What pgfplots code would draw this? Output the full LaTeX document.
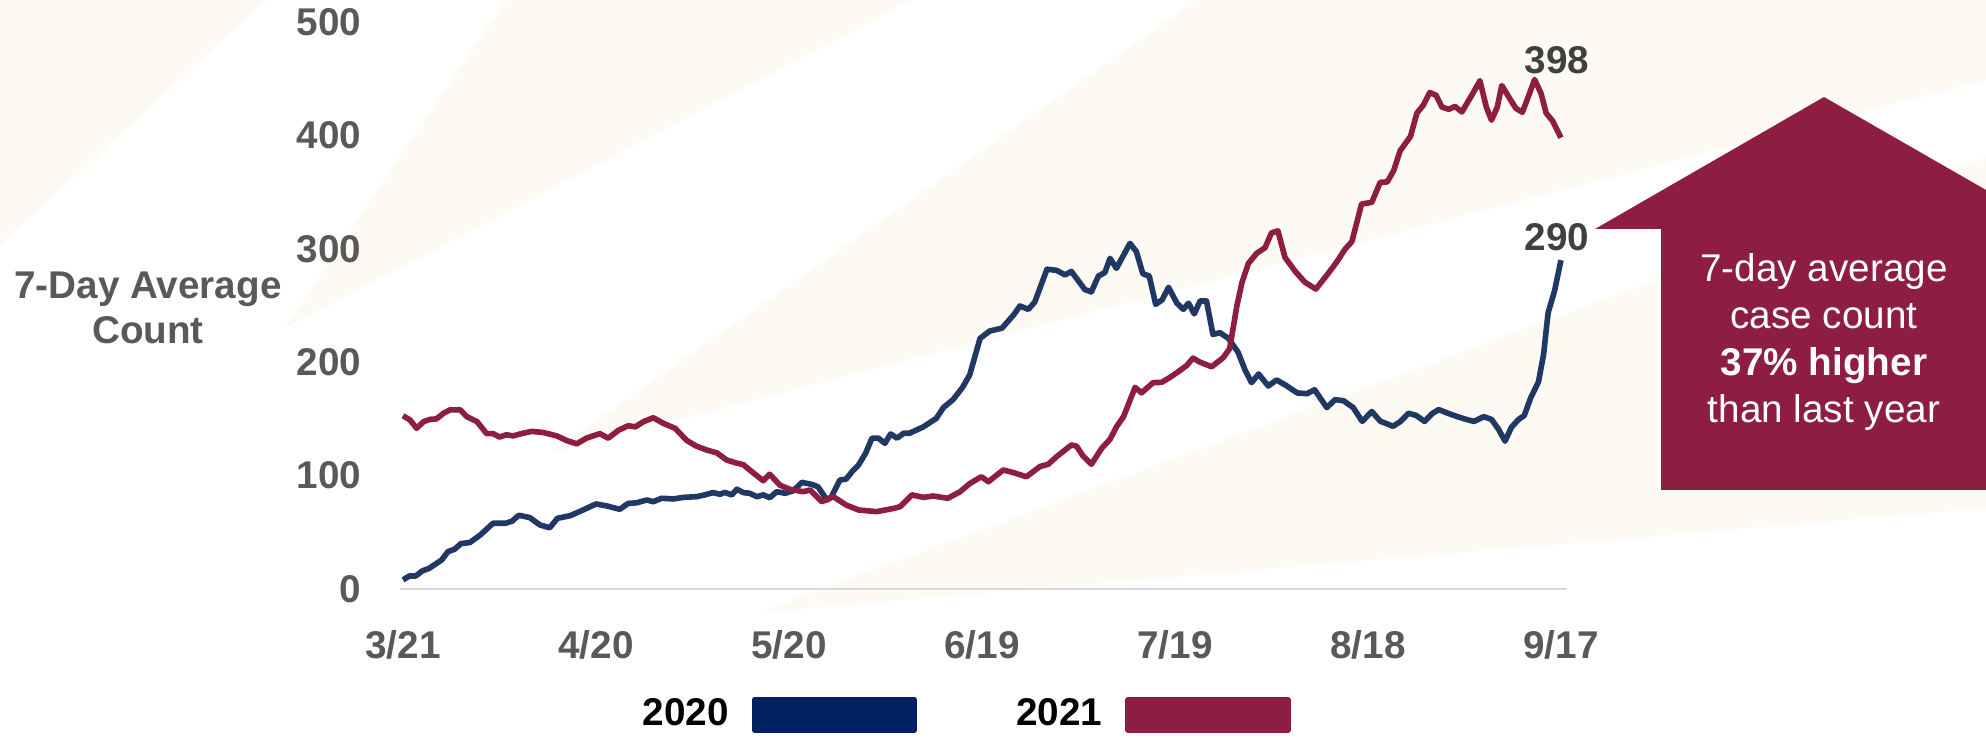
\documentclass[border=0pt]{standalone}
\usepackage{fontspec}
\setmainfont{Liberation Sans}
\usepackage{pgfplots}
\pgfplotsset{compat=1.18}
\definecolor{line20}{RGB}{31,56,100}
\definecolor{leg20}{RGB}{0,32,96}
\definecolor{c21}{RGB}{142,29,66}
\definecolor{tickgray}{RGB}{89,89,89}
\definecolor{lblgray}{RGB}{64,64,64}
\definecolor{beige}{RGB}{253,250,243}
\definecolor{axgray}{RGB}{217,217,217}

\pgfplotstableread{
d v
0 8
1 11.5
2 11.5
3 16
4 18
6 25.6
7 33
8 35
9 40
10.4 41
12 47.6
14 58
16 58
17 60
18 65
19.7 63
21.3 56.4
22.8 54
24 62.3
26 64.7
28 69.7
30 75
31.7 73.2
33.7 70.3
35 75.5
36.3 76
37.9 78.5
38.9 77
40.2 80
42 79.4
43.6 80.8
45.6 81.4
46.9 83
48.2 85
49.3 83.5
50 85.2
51.1 83
51.9 88
52.9 85
53.9 84.4
55 81.4
56 83
57 80.5
58.1 85.8
59.4 84.4
60.7 86.7
62 94
63.5 92.3
64.5 90.2
65.9 78.5
66.6 81.4
67.9 96
68.9 97
69.8 103.5
70.8 109.3
71.9 119.6
72.9 133
73.9 133
74.9 128.5
75.8 136.7
76.8 133
77.8 137.3
78.7 137.3
80.9 143
82.9 150.5
84 160
85.5 167
87 178
88.1 189
89.7 221
91.2 227.5
93.1 230
94.9 241.6
95.9 249.6
97.2 246.6
98.2 253
100.1 282
101.6 281
102.9 277
103.9 280
106 264
107 262
108.1 276
109.1 279
109.9 291.6
110.9 282.8
113 304.8
114 297.5
115 278
116 276
117 251
118 255
119 266
120.3 252
121.3 246.6
122.1 252
123 242.6
123.9 254
124.9 254
125.9 224.5
127 226
128.3 221
129.8 208.8
130.9 193
131.9 182
133 189.6
134.5 179
135.8 184.4
137.4 179
139 172.9
140.5 172.2
141.7 175.7
143.6 160
144.9 167
146.2 166
147.7 160
149.1 147.8
150.6 156.5
151.9 148
153.9 143.5
155 147.5
156.3 155
157.5 153
158.8 147.8
160 154.8
161 158.2
162.5 154.8
163.9 152
165.3 149.5
166.5 147.8
168 152
169.2 149.5
170.3 140.8
171.3 130.4
172.3 142.6
173.4 149.5
174.3 153
175.3 168.7
176.5 182.6
177.3 207
178 243.6
179 262.8
180 290
}\dataTwenty

\pgfplotstableread{
d v
0 152.8
1.1 149
2.1 141.7
3.2 147.6
4.2 149.6
5.2 150
6.3 155
7.3 158
8.9 158
9.9 152
11.5 147.6
13 137
14 137
15 134
16.1 136
17.1 135
18.4 137
20 139
21.8 138
23.9 135
25.4 131
27 128
28.5 133
30.6 137
31.9 133
33.5 140
35 144
36.1 143
37.4 147.6
38.9 151
40.5 146
42.3 141.7
44.1 131
45.6 126
47.2 122.6
48.8 120
50.3 113.8
51.6 111.4
52.9 109.6
54.2 103.5
56 95.5
57 101.2
58.6 91.5
60.1 88
62.2 85.8
63.3 87.3
65.1 77
66.9 81.4
68.9 74
70.8 69.7
73.6 68.2
76.2 71
77.3 72.6
79.1 83
80.9 80.8
82.4 82
84.7 80
86.6 85.8
88.1 93
89.9 99
91 94.6
93.3 105
94.9 102.6
96.9 99
99 108
100.3 110
101.6 116.7
103.9 127
104.7 126
105.7 117.3
107 110
108.6 124
109.9 132
110.9 143
112 152
113.8 177.8
114.8 173
116.6 182
117.9 182.2
119 185.8
120.3 190.8
121.8 197
122.8 203.6
123.9 200
125.7 196
127.5 204
128.5 212
129.6 249
130.4 270
131.4 287
132.7 296
134 301
135 314
136 315.8
137.1 292.4
138.7 280
140.2 270.5
141.9 264.5
143.6 276.7
145.1 288
146.4 299.4
147.5 306.4
149 339.5
150.6 341
151.9 358.6
153 359
154 369
155 386.5
156.6 399
157.6 419.6
158.6 426.6
159.6 437.8
160.6 435.3
161.5 424.9
162.6 423
163.5 425.6
164.6 420.7
165.4 428.4
166.3 437
167.4 448.2
168.4 424.9
169.2 413.4
170.1 425
170.8 444
172.1 431.9
173 423.8
174 420.4
175 435.3
175.9 449.3
176.9 437
177.7 419.7
178.7 412.7
180 398
}\dataTwentyOne

\begin{document}
\begin{tikzpicture}[x=1cm,y=1cm]
\path[use as bounding box, fill=white] (0,0) rectangle (19.86,7.39);
% faint background rays
\fill[beige] (0,7.39) -- (2.66,7.39) -- (0,4.94) -- cycle;
\fill[beige] (2.85,4.11) -- (5.06,7.39) -- (9.12,7.39) -- cycle;
\fill[beige] (5.50,2.86) -- (11.97,7.39) -- (19.86,7.39) -- (19.86,6.59) -- cycle;
\fill[beige] (7.60,1.27) -- (19.86,5.81) -- (19.86,2.31) -- cycle;

\begin{axis}[
  at={(3.998cm,1.50cm)}, anchor=south west,
  scale only axis, width=11.676cm, height=5.67cm,
  xmin=-0.5, xmax=181, ymin=0, ymax=500,
  axis x line*=bottom, axis y line*=left,
  y axis line style={draw=none},
  x axis line style={-, draw=axgray, line width=0.6pt},
  major tick length=0pt,
  xtick={0,30,...,180},
  xticklabels={3/21,4/20,5/20,6/19,7/19,8/18,9/17},
  ytick={0,100,...,500},
  /pgf/number format/assume math mode=true,
  tick label style={font=\fontsize{11}{13}\selectfont\bfseries, text=tickgray},
  yticklabel style={anchor=east, inner sep=0pt, xshift=-0.38cm},
  xticklabel style={anchor=north, inner sep=0pt, yshift=-0.41cm},
  clip=false,
  legend plot pos=right,
  legend columns=2,
  legend style={at={(0.2074,-0.222)}, anchor=west, draw=none, fill=none,
    inner sep=0pt, nodes={inner sep=0pt},
    font=\fontsize{11}{13}\selectfont\bfseries, text=black,
    /tikz/every odd column/.append style={column sep=0.23cm},
    /tikz/every even column/.append style={column sep=0.99cm}},
]
\addplot[line20, line width=1.6pt, line join=round,
  legend image code/.code={\fill[leg20] (0cm,-0.15cm) rectangle (1.6cm,0.15cm);}]
  table[x=d,y=v] {\dataTwenty};
\addlegendentry{2020}
\addplot[c21, line width=1.6pt, line join=round,
  legend image code/.code={\fill[c21] (0cm,-0.15cm) rectangle (1.6cm,0.15cm);}]
  table[x=d,y=v] {\dataTwentyOne};
\addlegendentry{2021}
\node[font=\fontsize{11}{13}\selectfont\bfseries, text=lblgray] at (axis cs:179.4,466.5) {398};
\node[font=\fontsize{11}{13}\selectfont\bfseries, text=lblgray] at (axis cs:179.4,310) {290};
\end{axis}

% y-axis title
\node[font=\fontsize{11}{12.8}\selectfont\bfseries, text=tickgray, align=center] at (1.48,4.31) {7-Day Average\\Count};

% annotation arrow
\fill[c21] (15.95,5.10) -- (18.24,6.42) -- (19.86,5.49) -- (19.86,2.49) -- (16.61,2.49) -- (16.61,5.10) -- cycle;
\node[text=white, align=center, font=\fontsize{11}{13.4}\selectfont] at (18.24,3.97)
  {7-day average\\case count\\\textbf{37\% higher}\\than last year};
\end{tikzpicture}
\end{document}
